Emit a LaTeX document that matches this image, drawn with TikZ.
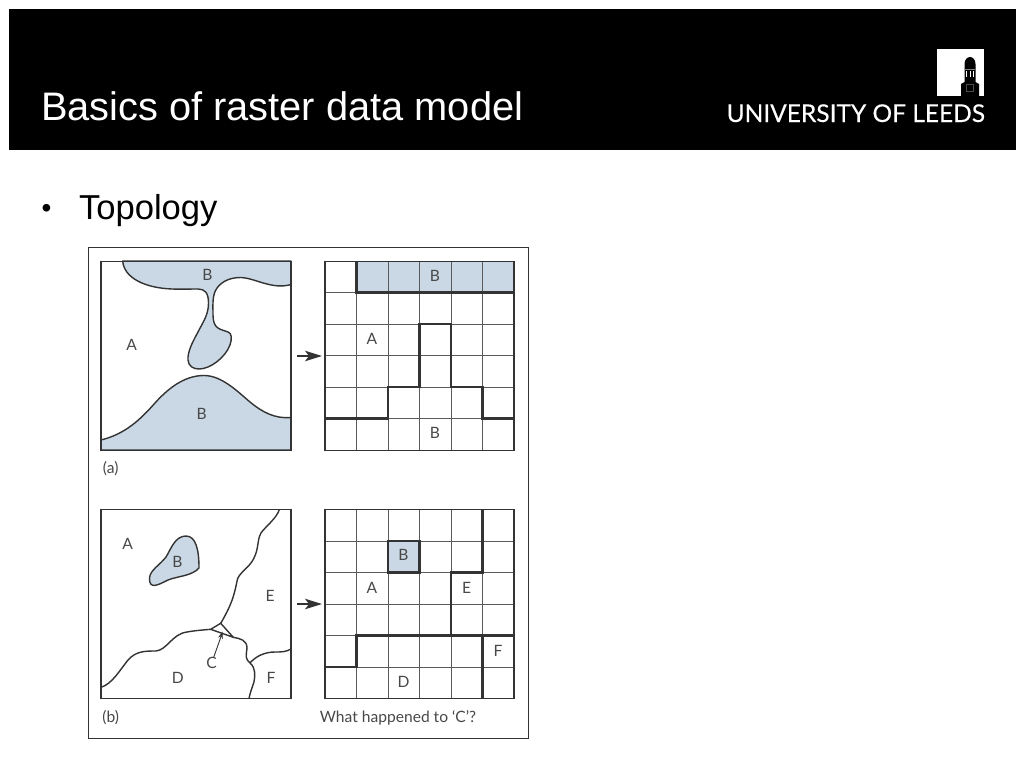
\documentclass[tikz,border=0pt]{standalone}
\usepackage{fontspec}
\setmainfont{Liberation Sans}
\newfontfamily\figfont{Lato}
\newfontfamily\logofont[FakeBold=0.25]{Lato}
\usepackage{xcolor}
\usetikzlibrary{calc, arrows.meta, positioning}
\definecolor{regionblue}{HTML}{C9D8E4}
\definecolor{inkgray}{HTML}{333333}
\definecolor{gridgray}{HTML}{5A5A5A}
\definecolor{labelgray}{HTML}{484848}

\begin{document}
\begin{tikzpicture}[
    x=1pt, y=-1pt,
    every node/.style={inner sep=0pt, outer sep=0pt},
    mapbox/.style={draw=inkgray, line width=1.4pt, minimum width=190pt, minimum height=189pt},
    gridbox/.style={draw=inkgray, line width=1.4pt, minimum width=189pt, minimum height=189pt},
    boundary/.style={draw=inkgray, line width=1.4pt, line join=round},
    region/.style={boundary, fill=regionblue},
    gridline/.style={draw=gridgray, line width=1pt},
    rasterline/.style={draw=inkgray, line width=2.2pt, line join=miter},
    maplabel/.style={font=\figfont\fontsize{15.6}{18}\selectfont, text=labelgray, yshift=-0.7pt},
    maparrow/.style={draw=inkgray, line width=1.3pt, -{Stealth[length=17pt, width=10.5pt, inset=4pt]}},
  ]
  \useasboundingbox (0,0) rectangle (1024,768);
  \fill[white] (0,0) rectangle (1024,768);

  % header
  \fill[black] (9,9) rectangle (1016,149.5);
  \node[anchor=base west, text=white, font=\fontsize{39.8}{42}\selectfont] (title) at (41,120) {Basics of raster data model};
  \node[anchor=base east, text=white, font=\logofont\fontsize{24.5}{26}\selectfont] (leeds) at (985,122) {UNIVERSITY OF LEEDS};
  \fill[white] (937.3,49) rectangle (984,96);
  \fill[black] (961,96) -- (961,84) -- (964.5,82) -- (964.5,64) .. controls (964.5,60) and (967,57) .. (970,57) .. controls (973,57) and (975.5,60) .. (975.5,64) -- (975.5,82) -- (979,84) -- (979,96) -- cycle;
  \foreach \i in {966.8,970,973.2} {
    \draw[white, line width=0.7pt] (\i,71) -- (\i,77);
  }
  \draw[gray, line width=0.5pt] (965,69) -- (975,69);
  \draw[black!70, line width=0.5pt] (966.5,84) rectangle (973.5,91);

  \node[anchor=base west, font=\fontsize{28}{30}\selectfont] (bullet) at (41.5,217) {•};
  \node[anchor=base west, font=\fontsize{34.6}{36}\selectfont] (topic) at (79,219.5) {Topology};

  % figure frame
  \draw[inkgray, line width=0.8pt] (88.5,247) rectangle (528.5,738.5);

  % part (a), map
  \path[region] (122.7,261) .. controls (124,278) and (145,288) .. (172,289) .. controls (180,289.3) and (190,289) .. (198,289) .. controls (205,289) and (208.5,293) .. (208.5,303) .. controls (208.5,315) and (203,322) .. (198,332) .. controls (192,343) and (187.5,352) .. (188,360) .. controls (188.5,366) and (193,369) .. (199,369) .. controls (210,369) and (225,358) .. (230,345) .. controls (232,339) and (232,333) .. (228,332) .. controls (220,329) and (213,329) .. (213,315) .. controls (213,305) and (212,295) .. (217,288) .. controls (223,280) and (232,277.5) .. (241,277.5) .. controls (255,278) and (272,290) .. (291,284.5) -- (291,261) -- cycle;
  \path[region] (101,440) .. controls (125,434) and (140,420) .. (155,403) .. controls (172,384) and (188,375.5) .. (204,375.5) .. controls (222,375.5) and (238,392) .. (250,402) .. controls (262,412) and (275,419) .. (291,417.5) -- (291,450) -- (101,450) -- cycle;
  \node[mapbox] (mapa) at (196,356) {};
  \node[maplabel] (mapaA) at (131.7,344.3) {A};
  \node[maplabel] (mapaB) at (207.3,274) {B};
  \node[maplabel] (mapaBB) at (201.7,413.3) {B};
  \node[maplabel] (capa) at (110.7,468) {(a)};

  % part (a), raster
  \fill[regionblue] (356.5,261) rectangle (514,292.5);
  \foreach \i in {1,...,5} {
    \draw[gridline] (325+31.5*\i,261) -- (325+31.5*\i,450);
    \draw[gridline] (325,261+31.5*\i) -- (514,261+31.5*\i);
  }
  \draw[rasterline] (356.5,261) -- (356.5,292.5) -- (514,292.5);
  \draw[rasterline] (325,418.5) -- (388,418.5) -- (388,387) -- (419.5,387) -- (419.5,324) -- (451,324) -- (451,387) -- (482.5,387) -- (482.5,418.5) -- (514,418.5);
  \node[gridbox] (grida) at (419.5,356) {};
  \node[maplabel] (gridaB) at (435,275) {B};
  \node[maplabel] (gridaA) at (372,338.3) {A};
  \node[maplabel] (gridaBB) at (435,432.7) {B};
  \draw[maparrow, shorten <=6pt, shorten >=3pt] (mapa.east) -- (grida.west);

  % part (b), map
  \path[region] (149.5,578) .. controls (150,570) and (160,565) .. (166,557) .. controls (171,549) and (175,536) .. (186,536) .. controls (196,536) and (199,550) .. (199,568) .. controls (192,576) and (178,576) .. (168,580) .. controls (158,585) and (149,590) .. (149.5,578) -- cycle;
  \coordinate (ctop) at (220.7,623.3);
  \coordinate (cleft) at (210.7,629.3);
  \coordinate (cright) at (233.3,637.3);
  \coordinate (fjoin) at (250,663);
  \coordinate (cpoint) at (222.7,631.7);
  \draw[boundary] (ctop) -- (cleft) -- (cright) -- cycle;
  \draw[boundary] (279.3,509.5) .. controls (277,518) and (265,527) .. (261,533) .. controls (257,540) and (259,548) .. (254,558) .. controls (250,567) and (240,572) .. (237.5,579) .. controls (235,590) and (234,601) .. (ctop);
  \draw[boundary] (101,687.3) .. controls (112,684) and (120,670) .. (128,660) .. controls (136,651) and (145,651) .. (156,651) .. controls (167,650) and (172,634) .. (187,632) .. controls (195,630.5) and (203,630) .. (cleft);
  \draw[boundary] (cright) .. controls (240,638.5) and (247,640) .. (247,648) .. controls (246,657) and (245,658) .. (fjoin) .. controls (256,668) and (255,676) .. (254,682) .. controls (252,688) and (250,693) .. (249,698.5);
  \draw[boundary] (fjoin) .. controls (256,656) and (265,652) .. (275,652) .. controls (281,652) and (286,652) .. (291,649);
  \node[mapbox] (mapb) at (196,604) {};
  \node[maplabel] (mapbA) at (127.7,543.3) {A};
  \node[maplabel] (mapbB) at (177.3,561) {B};
  \node[maplabel] (mapbE) at (270,595.7) {E};
  \node[maplabel] (mapbD) at (177.7,677.7) {D};
  \node[maplabel] (mapbF) at (271,677.7) {F};
  \node[maplabel] (mapbC) at (211.7,662.3) {C};
  \draw[inkgray, line width=0.9pt, -{Stealth[length=7pt, width=5pt]}] (mapbC) -- (cpoint);
  \node[maplabel] (capb) at (110.7,716.7) {(b)};

  % part (b), raster
  \fill[regionblue] (388,541) rectangle (419.5,572.5);
  \foreach \i in {1,...,5} {
    \draw[gridline] (325+31.5*\i,509.5) -- (325+31.5*\i,698.5);
    \draw[gridline] (325,509.5+31.5*\i) -- (514,509.5+31.5*\i);
  }
  \draw[rasterline] (388,541) rectangle (419.5,572.5);
  \draw[rasterline] (482.5,509.5) -- (482.5,572.5) -- (451,572.5) -- (451,635.5);
  \draw[rasterline] (325,667) -- (356.5,667) -- (356.5,635.5) -- (514,635.5);
  \draw[rasterline] (482.5,635.5) -- (482.5,698.5);
  \node[gridbox] (gridb) at (419.5,604) {};
  \node[maplabel] (gridbB) at (403.5,554.3) {B};
  \node[maplabel] (gridbA) at (372,587) {A};
  \node[maplabel] (gridbE) at (466.7,587) {E};
  \node[maplabel] (gridbF) at (498,650) {F};
  \node[maplabel] (gridbD) at (403.5,681.7) {D};
  \draw[maparrow, shorten <=6pt, shorten >=3pt] (mapb.east) -- (gridb.west);
  \node[maplabel] (question) at (398,717) {What happened to ‘C’?};
\end{tikzpicture}
\end{document}
